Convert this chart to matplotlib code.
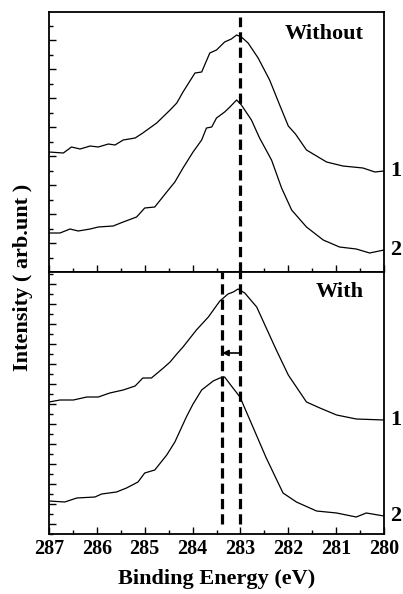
import matplotlib
matplotlib.use("Agg")
import matplotlib.pyplot as plt
from matplotlib.ticker import MultipleLocator, FixedLocator

plt.rcParams['font.family'] = ['Liberation Serif', 'DejaVu Serif']
plt.rcParams['font.weight'] = 'bold'

# ---- data (binding energy in eV, intensity in arb. units) ----
top1_x = [287, 286.7, 286.53, 286.35, 286.14, 285.97, 285.76, 285.62, 285.45, 285.2, 285.04, 284.75,
          284.47, 284.33, 284.2, 283.95, 283.81, 283.64, 283.5, 283.33, 283.19, 283.08, 282.98, 282.84,
          282.63, 282.39, 282.18, 282.0, 281.85, 281.62, 281.2, 280.86, 280.44, 280.19, 280.0]
top1_y = [120, 119, 125, 123, 126, 125, 128, 127, 132, 134, 139, 149, 162, 169, 180, 199, 200, 219,
          222, 230, 233, 237, 235, 229, 214, 192, 167, 146, 138, 122, 110, 106, 104, 100, 101]

top2_x = [287, 286.77, 286.56, 286.39, 286.14, 285.97, 285.66, 285.45, 285.17, 285.0, 284.79, 284.54,
          284.37, 284.2, 283.99, 283.81, 283.71, 283.6, 283.5, 283.33, 283.22, 283.08, 282.98, 282.77,
          282.6, 282.35, 282.14, 281.93, 281.62, 281.27, 280.93, 280.58, 280.3, 280.0]
top2_y = [39, 39, 43, 41, 43, 45, 46, 50, 55, 64, 65, 80, 90, 104, 120, 132, 144, 145, 154, 160, 165,
          172, 167, 152, 134, 112, 84, 62, 45, 32, 25, 23, 19, 22]

bot1_x = [287, 286.77, 286.49, 286.21, 285.97, 285.73, 285.45, 285.2, 285.04, 284.86, 284.61, 284.47,
          284.33, 284.2, 283.92, 283.67, 283.43, 283.26, 283.15, 283.05, 282.91, 282.66, 282.46, 282.25,
          282.0, 281.62, 281.34, 280.99, 280.58, 280.0]
bot1_y = [132, 134, 134, 137, 137, 141, 144, 148, 156, 156, 166, 172, 180, 187, 204, 217, 233, 240, 242,
          245, 241, 227, 206, 184, 159, 132, 126, 119, 115, 114]

bot2_x = [287, 286.67, 286.42, 286.04, 285.9, 285.59, 285.38, 285.14, 285.0, 284.79, 284.54, 284.37,
          284.13, 283.99, 283.81, 283.57, 283.43, 283.33, 283.22, 283.01, 282.73, 282.46, 282.11, 281.83,
          281.41, 280.99, 280.58, 280.37, 280.0]
bot2_y = [33, 32, 36, 37, 40, 42, 46, 52, 61, 64, 79, 92, 117, 130, 144, 153, 156, 157, 150, 137, 106,
          76, 41, 32, 23, 21, 17, 21, 18]

peak_without = 283.01
peak_with = 283.38
panel_titles = ["Without", "With"]
curve_labels = ["1", "2"]
x_ticks = [287, 286, 285, 284, 283, 282, 281, 280]

fig = plt.figure(figsize=(4.03, 5.94), dpi=100)
ax_top = fig.add_axes([49/403, 1-272/594, 335/403, 260/594])
ax_bot = fig.add_axes([49/403, 1-534/594, 335/403, 262/594])

for ax in (ax_top, ax_bot):
    ax.set_xlim(287, 280)
    ax.xaxis.set_major_locator(FixedLocator(x_ticks))
    ax.xaxis.set_minor_locator(MultipleLocator(0.5))
    ax.tick_params(axis='both', which='both', direction='in', right=False, top=False,
                   labelsize=14.5, width=1.0)
    ax.tick_params(axis='both', which='major', length=5)
    ax.tick_params(axis='both', which='minor', length=3)
    for sp in ax.spines.values():
        sp.set_linewidth(1.3)

ax_top.set_ylim(0, 260)
ax_top.yaxis.set_major_locator(MultipleLocator(29))
ax_top.yaxis.set_minor_locator(MultipleLocator(14.5))
ax_top.tick_params(axis='x', labelbottom=False)
ax_top.set_yticklabels([])

ax_bot.set_ylim(0, 262)
ax_bot.yaxis.set_major_locator(FixedLocator(list(range(10, 262, 20))))
ax_bot.yaxis.set_minor_locator(MultipleLocator(10))
ax_bot.set_yticklabels([])

ax_top.plot(top1_x, top1_y, color='black', lw=0.9)
ax_top.plot(top2_x, top2_y, color='black', lw=0.9)
ax_bot.plot(bot1_x, bot1_y, color='black', lw=0.9)
ax_bot.plot(bot2_x, bot2_y, color='black', lw=0.9)

dash = dict(color='black', lw=2.3, linestyle=(0, (3.2, 1.6)))
ax_top.axvline(peak_without, ymin=0, ymax=0.98, **dash)
ax_bot.axvline(peak_without, ymin=0.04, ymax=1, **dash)
ax_bot.axvline(peak_with, ymin=0.04, ymax=1, **dash)

ax_bot.annotate('', xy=(peak_with, 181), xytext=(peak_without, 181),
                arrowprops=dict(arrowstyle='-|>', color='black', lw=1.2,
                                mutation_scale=9, shrinkA=0, shrinkB=0))

ax_top.text(0.94, 0.915, panel_titles[0], transform=ax_top.transAxes, ha='right', va='center',
            fontsize=16, fontweight='bold')
ax_bot.text(0.94, 0.925, panel_titles[1], transform=ax_bot.transAxes, ha='right', va='center',
            fontsize=16, fontweight='bold')

for ax, ys in ((ax_top, (top1_y[-1], top2_y[-1])), (ax_bot, (bot1_y[-1], bot2_y[-1]))):
    for lab, yv in zip(curve_labels, ys):
        ax.text(1.018, yv, lab, transform=ax.get_yaxis_transform(), ha='left', va='center',
                fontsize=16, fontweight='bold')

ax_bot.set_xlabel('Binding Energy (eV)', fontsize=16, fontweight='bold', labelpad=7)
fig.text(23/403, 1-277/594, 'Intensity ( arb.unt )', rotation=90, ha='center', va='center',
         fontsize=16, fontweight='bold')

fig.savefig('out.png', dpi=100)
